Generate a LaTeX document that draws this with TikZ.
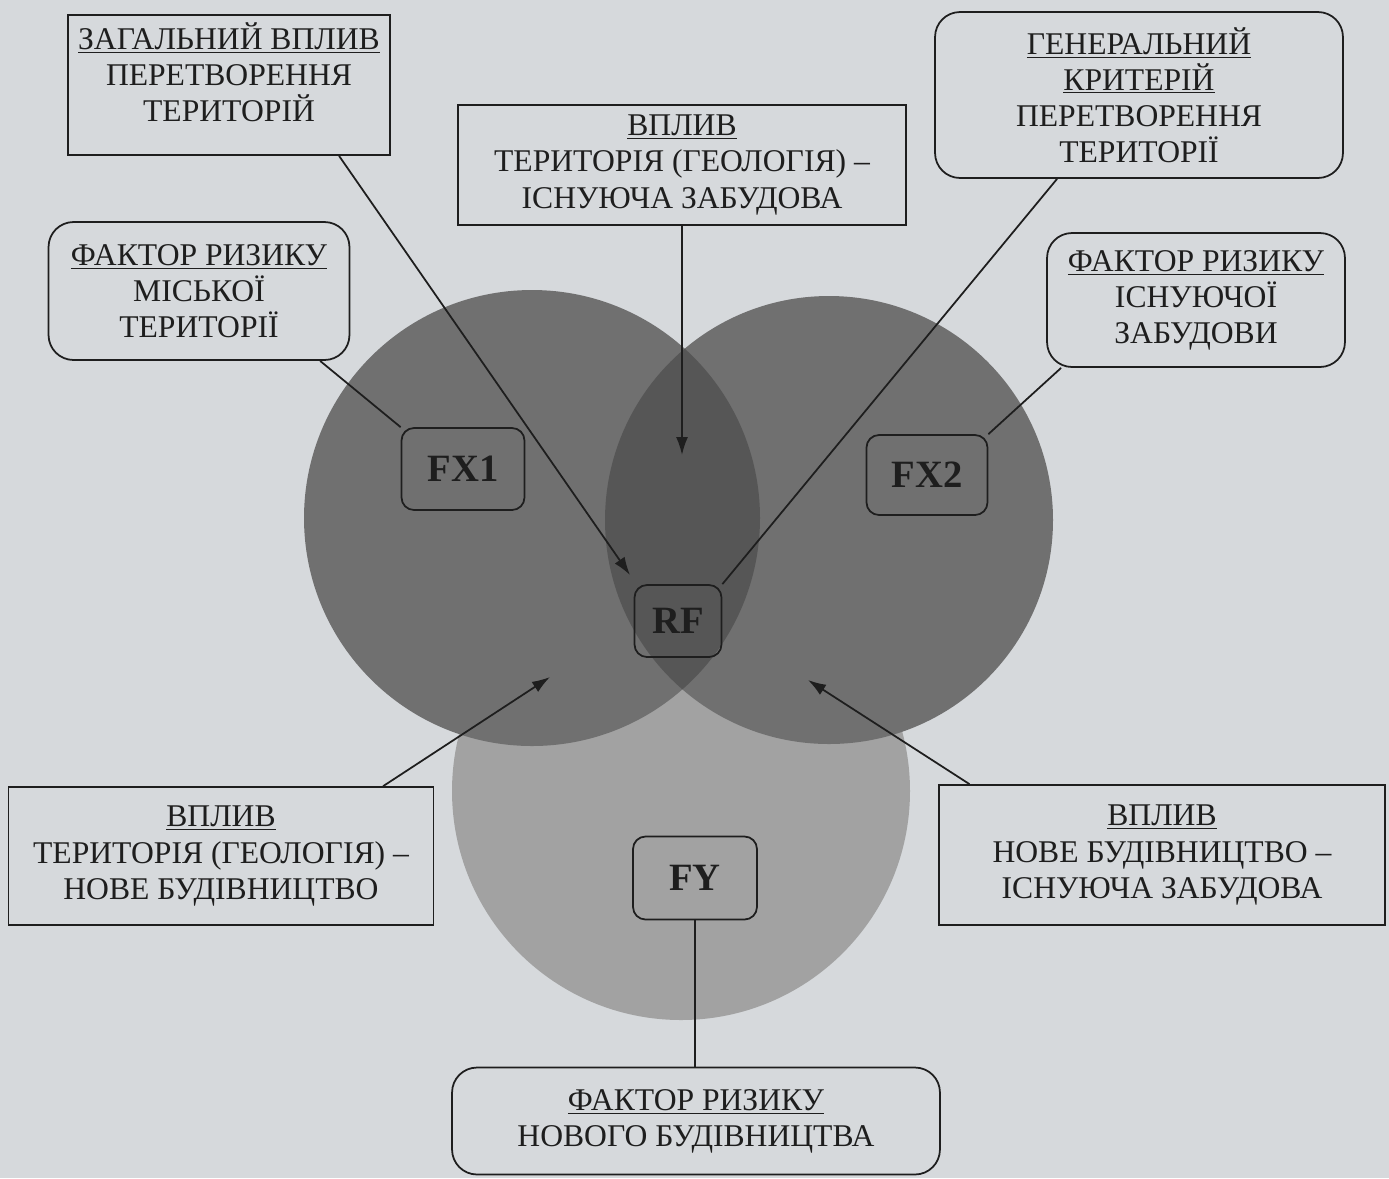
\documentclass[tikz,border=0pt]{standalone}
\usepackage{fontspec}
\setmainfont{Liberation Serif}
\usetikzlibrary{arrows.meta, positioning, calc}

\definecolor{paper}{RGB}{214,217,220}
\definecolor{discdark}{RGB}{112,112,112}
\definecolor{disclens}{RGB}{86,86,86}
\definecolor{disclight}{RGB}{162,162,162}
\definecolor{ink}{RGB}{30,30,30}

\begin{document}
\begin{tikzpicture}[
  x=0.02cm, y=-0.02cm,
  frame/.style={rectangle, draw=ink, line width=1pt, align=center, text=ink,
    font=\fontsize{18}{20.5}\selectfont, inner sep=2pt},
  rframe/.style={frame, rounded corners=5mm},
  tag/.style={rectangle, rounded corners=2.5mm, draw=ink, line width=1pt, text=ink,
    font=\fontsize{22}{24}\selectfont\bfseries},
  link/.style={draw=ink, line width=1pt},
  edge/.style={link, -{Latex[length=3.6mm, width=2.4mm]}}
]
\fill[paper] (0,0) rectangle (1389,1178);

% three discs
\fill[disclight] (681,791) circle[radius=229];
\fill[discdark] (532,518) circle[radius=228];
\fill[discdark] (829,520) circle[radius=224];
\begin{scope}
  \clip (532,518) circle[radius=228];
  \fill[disclens] (829,520) circle[radius=224];
\end{scope}

% boxes
\node[frame, minimum width=6.44cm, minimum height=2.8cm] (zag) at (229,85)
  {\underline{ЗАГАЛЬНИЙ ВПЛИВ}\\ПЕРЕТВОРЕННЯ\\ТЕРИТОРІЙ\\[-6pt]\mbox{}};
\node[frame, minimum width=8.96cm, minimum height=2.4cm] (vpl) at (682,165)
  {\underline{ВПЛИВ}\\ТЕРИТОРІЯ (ГЕОЛОГІЯ) –\\ІСНУЮЧА ЗАБУДОВА};
\node[rframe, minimum width=8.16cm, minimum height=3.32cm] (gen) at (1139,95)
  {\underline{ГЕНЕРАЛЬНИЙ}\\\underline{КРИТЕРІЙ}\\ПЕРЕТВОРЕННЯ\\ТЕРИТОРІЇ};
\node[rframe, minimum width=6.02cm, minimum height=2.76cm] (mis) at (199,291)
  {\underline{ФАКТОР РИЗИКУ}\\МІСЬКОЇ\\ТЕРИТОРІЇ};
\node[rframe, minimum width=5.96cm, minimum height=2.68cm] (isn) at (1196,300)
  {\underline{ФАКТОР РИЗИКУ}\\ІСНУЮЧОЇ\\ЗАБУДОВИ};
\node[frame, minimum width=8.5cm, minimum height=2.76cm] (geo) at (221,856)
  {\underline{ВПЛИВ}\\ТЕРИТОРІЯ (ГЕОЛОГІЯ) –\\НОВЕ БУДІВНИЦТВО};
\node[frame, minimum width=8.92cm, minimum height=2.8cm] (bud) at (1162,855)
  {\underline{ВПЛИВ}\\НОВЕ БУДІВНИЦТВО –\\ІСНУЮЧА ЗАБУДОВА};
\node[rframe, minimum width=9.76cm, minimum height=2.14cm] (nov) at (696,1121)
  {\underline{ФАКТОР РИЗИКУ}\\НОВОГО БУДІВНИЦТВА};

% labels in the discs
\node[tag, minimum width=2.46cm, minimum height=1.64cm] (fx1) at (463,469) {FX1};
\node[tag, minimum width=2.42cm, minimum height=1.6cm] (fx2) at (927,475) {FX2};
\node[tag, minimum width=1.74cm, minimum height=1.44cm] (rf) at (678,621) {RF};
\node[tag, minimum width=2.48cm, minimum height=1.66cm] (fy) at (695,878) {FY};

% connectors
\coordinate (rfhit) at (630,575);
\coordinate (lens) at (682,455);
\coordinate (lefthit) at (550,677);
\coordinate (righthit) at (808,680);

\draw[edge] ($(zag.south west)!.84!(zag.south east)$) -- (rfhit);
\draw[edge] (vpl.south) -- (lens);
\draw[link] ($(gen.south west)!.30!(gen.south east)$) -- (rf.north east);
\draw[link] ($(mis.south west)!.9!(mis.south east)$) -- (fx1.north west);
\draw[link] ($(isn.south west)!.05!(isn.south east)$) -- (fx2.north east);
\draw[edge] ($(geo.north west)!.88!(geo.north east)$) -- (lefthit);
\draw[edge] ($(bud.north west)!.07!(bud.north east)$) -- (righthit);
\draw[link] (fy.south) -- (fy.south |- nov.north);
\end{tikzpicture}
\end{document}
